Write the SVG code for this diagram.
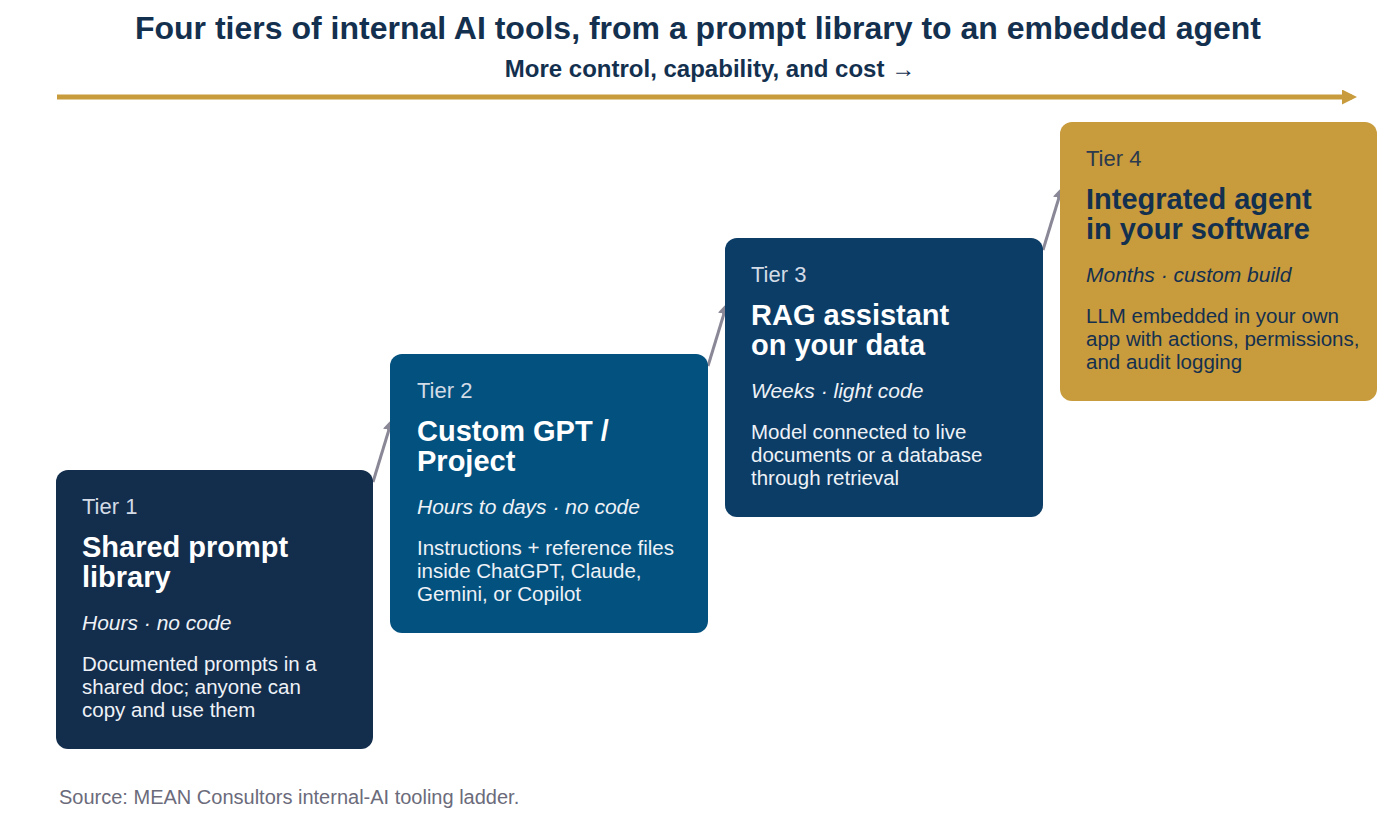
<svg xmlns="http://www.w3.org/2000/svg" width="1396" height="826" viewBox="0 0 1396 826">
<style>
text{font-family:"Liberation Sans",Arial,sans-serif}
.tier{font-size:22px;fill:#d3dbe6}
.name{font-size:29px;font-weight:bold;fill:#fff}
.meta{font-size:21px;font-style:italic;fill:#eef2f7}
.desc{font-size:20.5px;fill:#eef2f7}
.g .tier,.g .name,.g .meta,.g .desc{fill:#14304f}
.g .tier{fill:#2b3a4e}
.conn{stroke:#8a8797;stroke-width:3;fill:none;marker-end:url(#ah)}
</style>
<defs>
<marker id="ah" markerWidth="4" markerHeight="4" refX="2.5" refY="2" orient="auto" markerUnits="strokeWidth"><path d="M0,0L4,2L0,4z" fill="#8a8797"/></marker>
<marker id="ag" markerWidth="3" markerHeight="3" refX="2" refY="1.5" orient="auto" markerUnits="strokeWidth"><path d="M0,0L3,1.5L0,3z" fill="#c89b3c"/></marker>
</defs>
<rect width="1396" height="826" fill="#fff"/>
<text x="698" y="39" text-anchor="middle" font-size="32" font-weight="bold" fill="#14304f">Four tiers of internal AI tools, from a prompt library to an embedded agent</text>
<text x="710" y="77" text-anchor="middle" font-size="24" font-weight="bold" fill="#14304f">More control, capability, and cost  →</text>
<line x1="57" y1="97" x2="1352" y2="97" stroke="#c89b3c" stroke-width="5" marker-end="url(#ag)"/>
<g id="connectors">
<line class="conn" x1="373" y1="482" x2="391" y2="423"/>
<line class="conn" x1="708" y1="366" x2="726" y2="307"/>
<line class="conn" x1="1043" y1="250" x2="1061" y2="191"/>
</g>
<g id="tier1">
<rect x="56" y="470" width="317" height="279" rx="12" fill="#132d4c"/>
<text class="tier" x="82" y="514">Tier 1</text>
<text class="name" x="82" y="557">Shared prompt</text>
<text class="name" x="82" y="587">library</text>
<text class="meta" x="82" y="630">Hours · no code</text>
<text class="desc" x="82" y="671">Documented prompts in a</text>
<text class="desc" x="82" y="694">shared doc; anyone can</text>
<text class="desc" x="82" y="717">copy and use them</text>
</g>
<g id="tier2">
<rect x="390" y="354" width="318" height="279" rx="12" fill="#03517f"/>
<text class="tier" x="417" y="398">Tier 2</text>
<text class="name" x="417" y="441">Custom GPT /</text>
<text class="name" x="417" y="471">Project</text>
<text class="meta" x="417" y="514">Hours to days · no code</text>
<text class="desc" x="417" y="555">Instructions + reference files</text>
<text class="desc" x="417" y="578">inside ChatGPT, Claude,</text>
<text class="desc" x="417" y="601">Gemini, or Copilot</text>
</g>
<g id="tier3">
<rect x="725" y="238" width="318" height="279" rx="12" fill="#0c3d66"/>
<text class="tier" x="751" y="282">Tier 3</text>
<text class="name" x="751" y="325">RAG assistant</text>
<text class="name" x="751" y="355">on your data</text>
<text class="meta" x="751" y="398">Weeks · light code</text>
<text class="desc" x="751" y="439">Model connected to live</text>
<text class="desc" x="751" y="462">documents or a database</text>
<text class="desc" x="751" y="485">through retrieval</text>
</g>
<g id="tier4" class="g">
<rect x="1060" y="122" width="317" height="279" rx="12" fill="#c89b3c"/>
<text class="tier" x="1086" y="166">Tier 4</text>
<text class="name" x="1086" y="209">Integrated agent</text>
<text class="name" x="1086" y="239">in your software</text>
<text class="meta" x="1086" y="282">Months · custom build</text>
<text class="desc" x="1086" y="323">LLM embedded in your own</text>
<text class="desc" x="1086" y="346">app with actions, permissions,</text>
<text class="desc" x="1086" y="369">and audit logging</text>
</g>
<text x="59" y="804" font-size="20" fill="#6b6b7b">Source: MEAN Consultors internal-AI tooling ladder.</text>
</svg>
